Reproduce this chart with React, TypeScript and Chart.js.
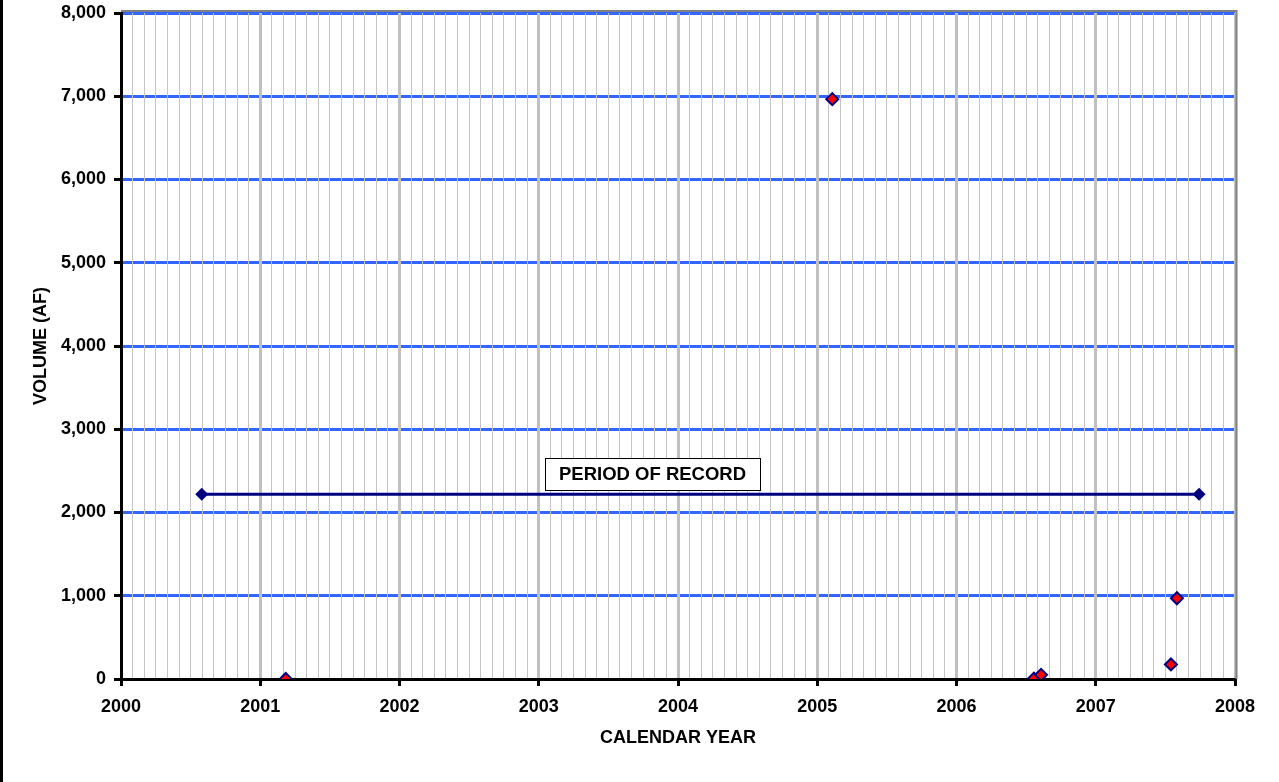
import React, { useEffect, useRef } from "react";
import { Chart, registerables } from "chart.js";

Chart.register(...registerables);

// ---- Data ----
const X_MIN = 2000;
const X_MAX = 2008;
const Y_MIN = 0;
const Y_MAX = 8000;
const Y_STEP = 1000;
const MONTHS_PER_YEAR = 12;

const obsDates = [2001.183, 2005.108, 2006.556, 2006.607, 2007.54, 2007.583];
const obsVolumes = [0, 6965, 5, 50, 175, 970];

const periodDates = [2000.58, 2007.742];
const periodVolumes = [2220, 2220];

const periodLabel = "PERIOD OF RECORD";
const periodLabelX = 2003.817;
const periodLabelY = 2468;

const xTitle = "CALENDAR YEAR";
const yTitle = "VOLUME (AF)";

// ---- Styles ----
const FONT = "'Liberation Sans', Arial, Helvetica, sans-serif";
const NAVY = "#000080";
const RED = "#ff0000";
const BLUE_GRID = "#3366ff";
const GRAY_MAJOR = "#c0c0c0";
const GRAY_MINOR = "#c4c4c4";

const frameLines = {
  id: "frameLines",
  beforeDatasetsDraw(chart: any) {
    const { ctx, chartArea } = chart;
    ctx.save();
    ctx.strokeStyle = "#808080";
    ctx.lineWidth = 2;
    ctx.beginPath();
    ctx.moveTo(chartArea.left, chartArea.top - 2);
    ctx.lineTo(chartArea.right + 2.5, chartArea.top - 2);
    ctx.moveTo(chartArea.right + 1.5, chartArea.top - 2);
    ctx.lineTo(chartArea.right + 1.5, chartArea.bottom);
    ctx.stroke();
    ctx.restore();
  },
};

const periodLabelPlugin = {
  id: "periodLabel",
  afterDatasetsDraw(chart: any) {
    const { ctx } = chart;
    const xs = chart.scales.x;
    const ys = chart.scales.y;
    const px = xs.getPixelForValue(periodLabelX);
    const py = ys.getPixelForValue(periodLabelY);
    ctx.save();
    ctx.font = `bold 18.5px ${FONT}`;
    const w = Math.round(ctx.measureText(periodLabel).width + 28);
    const h = 32;
    const left = Math.round(px - w / 2) + 0.5;
    const top = Math.round(py - h / 2) + 0.5;
    ctx.fillStyle = "#ffffff";
    ctx.fillRect(left, top, w, h);
    ctx.strokeStyle = "#000000";
    ctx.lineWidth = 1;
    ctx.strokeRect(left, top, w, h);
    ctx.fillStyle = "#000000";
    ctx.textAlign = "center";
    ctx.textBaseline = "middle";
    ctx.fillText(periodLabel, px, py + 1);
    ctx.restore();
  },
};

export default function App() {
  const canvasRef = useRef<HTMLCanvasElement | null>(null);

  useEffect(() => {
    if (!canvasRef.current) return;
    const totalMonths = (X_MAX - X_MIN) * MONTHS_PER_YEAR;
    const monthTicks: { value: number }[] = [];
    for (let i = 0; i <= totalMonths; i++) {
      monthTicks.push({ value: X_MIN + i / MONTHS_PER_YEAR });
    }
    const isMajor = (i: number) => i % MONTHS_PER_YEAR === 0;

    const chart = new Chart(canvasRef.current, {
      type: "scatter",
      data: {
        datasets: [
          {
            label: "Period of record",
            type: "line",
            data: periodDates.map((d, i) => ({ x: d, y: periodVolumes[i] })),
            borderColor: NAVY,
            backgroundColor: NAVY,
            borderWidth: 3,
            pointStyle: "rectRot",
            pointRadius: 6.5,
            pointBorderWidth: 0,
            pointBackgroundColor: NAVY,
            showLine: true,
            fill: false,
          },
          {
            label: "Volume",
            data: obsDates.map((d, i) => ({ x: d, y: obsVolumes[i] })),
            pointStyle: "rectRot",
            pointRadius: 6,
            pointBorderWidth: 2,
            pointBackgroundColor: RED,
            pointBorderColor: NAVY,
            showLine: false,
          },
        ],
      },
      options: {
        responsive: false,
        animation: false,
        devicePixelRatio: 1,
        layout: { padding: { left: 0, top: 13, right: 44, bottom: 0 } },
        plugins: {
          legend: { display: false },
          tooltip: { enabled: false },
          title: { display: false },
        },
        scales: {
          x: {
            type: "linear",
            min: X_MIN,
            max: X_MAX,
            afterBuildTicks: (scale: any) => {
              scale.ticks = monthTicks.map((t) => ({ value: t.value }));
            },
            afterFit: (scale: any) => {
              scale.height = 103;
              scale.paddingLeft = 0;
              scale.paddingRight = 0;
            },
            grid: {
              z: -1,
              color: (c: any) => (isMajor(c.index) ? GRAY_MAJOR : GRAY_MINOR),
              lineWidth: (c: any) => (isMajor(c.index) ? 3 : 1),
              tickColor: (c: any) => (isMajor(c.index) ? "#000000" : "rgba(0,0,0,0)"),
              tickWidth: 3,
              tickLength: 7,
              drawTicks: true,
            },
            border: { display: true, color: "#000000", width: 3 },
            ticks: {
              autoSkip: false,
              maxRotation: 0,
              minRotation: 0,
              padding: 10,
              color: "#000000",
              font: { family: FONT, size: 18, weight: "bold" },
              callback: (_v: any, i: number) =>
                isMajor(i) ? String(X_MIN + i / MONTHS_PER_YEAR) : "",
            },
            title: {
              display: true,
              text: xTitle,
              color: "#000000",
              font: { family: FONT, size: 18, weight: "bold" },
              padding: { top: 0, bottom: 33 },
            },
          },
          y: {
            type: "linear",
            min: Y_MIN,
            max: Y_MAX,
            afterFit: (scale: any) => {
              scale.width = 121;
              scale.paddingTop = 0;
              scale.paddingBottom = 0;
            },
            grid: {
              z: -2,
              color: BLUE_GRID,
              lineWidth: 3,
              tickColor: "#000000",
              tickWidth: 3,
              tickLength: 7,
            },
            border: { display: true, color: "#000000", width: 3 },
            ticks: {
              stepSize: Y_STEP,
              padding: 8,
              color: "#000000",
              font: { family: FONT, size: 18, weight: "bold" },
              callback: (v: any) => Number(v).toLocaleString("en-US"),
            },
            title: {
              display: true,
              text: yTitle,
              color: "#000000",
              font: { family: FONT, size: 18, weight: "bold" },
              padding: { top: 30, bottom: 0 },
            },
          },
        },
      },
      plugins: [frameLines, periodLabelPlugin],
    } as any);
    return () => chart.destroy();
  }, []);

  return (
    <div
      style={{
        position: "absolute",
        left: 0,
        top: 0,
        width: 1279,
        height: 782,
        background: "#ffffff",
        overflow: "hidden",
      }}
    >
      <canvas
        ref={canvasRef}
        width={1279}
        height={782}
        style={{ position: "absolute", left: 0, top: 0, width: 1279, height: 782 }}
      />
      <div
        style={{
          position: "absolute",
          left: 0,
          top: 0,
          width: 3,
          height: 782,
          background: "#000000",
        }}
      />
    </div>
  );
}
